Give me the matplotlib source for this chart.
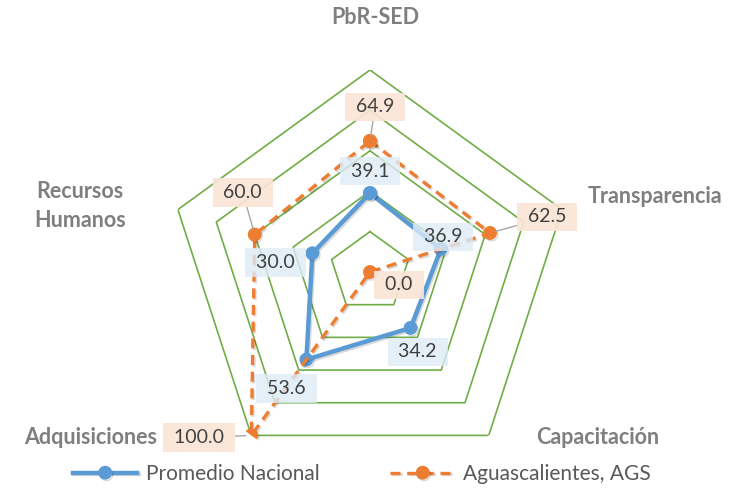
import numpy as np
import matplotlib.pyplot as plt
import matplotlib.patheffects as pe

categories = ["PbR-SED", "Transparencia", "Capacitación", "Adquisiciones", "Recursos\nHumanos"]
promedio_nacional = [39.1, 36.9, 34.2, 53.6, 30.0]
aguascalientes = [64.9, 62.5, 0.0, 100.0, 60.0]
rings = [20, 40, 60, 80, 100]

W, H = 735, 490
plt.rcParams['font.family'] = ['Lato', 'DejaVu Sans']

fig = plt.figure(figsize=(W / 100, H / 100), dpi=100)
cx, cy, R = 370, 272, 202
ax = fig.add_axes([(cx - R) / W, (H - cy - R) / H, 2 * R / W, 2 * R / H], projection='polar')
ax.set_theta_offset(np.pi / 2)
ax.set_theta_direction(-1)
ax.set_ylim(0, 100)
ax.set_axis_off()

n = len(categories)
theta = np.linspace(0, 2 * np.pi, n, endpoint=False)
closed = np.append(theta, theta[0])

# pentagon grid
for r in rings:
    ax.plot(closed, [r] * (n + 1), color='#70AD47', lw=1.2, zorder=1)

shadow = [pe.SimpleLineShadow(offset=(1, -1.2), alpha=0.15, shadow_color='#000000'), pe.Normal()]

blue = '#5B9BD5'
orange = '#ED7D31'
ax.plot(closed, promedio_nacional + promedio_nacional[:1], color=blue, lw=3.2,
        marker='o', ms=9, zorder=3, path_effects=shadow, label='Promedio Nacional')
ax.plot(closed, aguascalientes + aguascalientes[:1], color=orange, lw=2.4, ls=(0, (3, 2)),
        marker='o', ms=9, zorder=4, path_effects=shadow, label='Aguascalientes, AGS')

# data labels: offsets in pixels from each point
blue_offsets = [(0, 22), (2, 12), (7, -24), (-20, -29), (-37, -9)]
orange_offsets = [(5, 34), (57, 16), (29, -13), (-52, -2), (-12, 42)]
leader = [True, True, False, True, True]

box = 'square,pad=0.3'
for t, v, off in zip(theta, promedio_nacional, blue_offsets):
    ax.annotate(f" {v:.1f} ", xy=(t, v), xytext=off, textcoords='offset pixels',
                ha='center', va='center', fontsize=14, color='#404040', zorder=6,
                bbox=dict(boxstyle=box, fc='#DEEBF7', ec='none', alpha=0.8))

for t, v, off, ld in zip(theta, aguascalientes, orange_offsets, leader):
    arrow = dict(arrowstyle='-', color='#A6A6A6', lw=1, shrinkA=0, shrinkB=4) if ld else None
    ax.annotate(f" {v:.1f} ", xy=(t, v), xytext=off, textcoords='offset pixels',
                ha='center', va='center', fontsize=14, color='#404040', zorder=6,
                arrowprops=arrow,
                bbox=dict(boxstyle=box, fc='#FBE5D6', ec='none', alpha=0.9))

# category labels
label_pos = [(375, 17), (655, 196), (598, 437), (91, 437), (80, 206)]
for text, (x, y) in zip(categories, label_pos):
    fig.text(x / W, 1 - y / H, text, ha='center', va='center', fontsize=15.5,
             fontweight='bold', color='#7F7F7F', linespacing=1.45)

fig.legend(loc='center', bbox_to_anchor=(362 / W, 1 - 474 / H), ncol=2, frameon=False,
           fontsize=15, labelcolor='#595959', handlelength=3.1, columnspacing=3.4,
           handletextpad=0.4)

fig.savefig('out.png', dpi=100)
